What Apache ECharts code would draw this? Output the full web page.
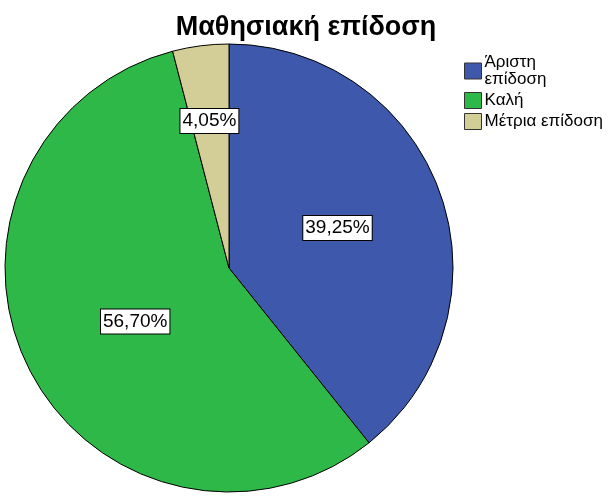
<!DOCTYPE html>
<html>
<head>
<meta charset="UTF-8">
<script src="https://cdn.jsdelivr.net/npm/echarts@6/dist/echarts.min.js"></script>
<style>
  html, body { margin: 0; padding: 0; background: #fff; }
  #main { width: 612px; height: 496px; }
</style>
</head>
<body>
<div id="main"></div>
<script>
// data
var categories = ['Άριστη επίδοση', 'Καλή', 'Μέτρια επίδοση'];
var percents = [39.25, 56.70, 4.05];
var colors = ['#3E58AC', '#2EB848', '#D3CE97'];

var chart = echarts.init(document.getElementById('main'), null, { renderer: 'canvas' });

// nudges so the labels sit where the reference puts them
var labelOffsets = [[0, -2], [9, 2], [-5, -33]];

var pieData = categories.map(function (name, i) {
  return {
    name: name,
    value: percents[i],
    itemStyle: { color: colors[i] },
    label: { offset: labelOffsets[i] }
  };
});

var option = {
  animation: false,
  title: {
    text: 'Μαθησιακή επίδοση',
    left: 'center',
    top: 9,
    textStyle: { fontFamily: 'Liberation Sans, Arial', fontWeight: 'bold', fontSize: 27, color: '#000' }
  },
  legend: {
    orient: 'vertical',
    left: 459,
    top: 49,
    itemWidth: 17,
    itemHeight: 16,
    itemGap: 4,
    icon: 'rect',
    data: categories,
    itemStyle: { borderColor: '#333', borderWidth: 1 },
    formatter: function (name) {
      return name === 'Άριστη επίδοση' ? 'Άριστη\nεπίδοση' : name;
    },
    textStyle: { fontFamily: 'Liberation Sans, Arial', fontSize: 17, color: '#000', lineHeight: 17, padding: [0, 0, 0, -2] }
  },
  series: [{
    type: 'pie',
    center: [229, 268],
    radius: 224,
    startAngle: 90,
    clockwise: true,
    itemStyle: { borderColor: '#000', borderWidth: 1 },
    emphasis: { disabled: true },
    label: {
      show: true,
      position: 'inside',
      formatter: function (p) { return p.value.toFixed(2).replace('.', ',') + '%'; },
      fontFamily: 'Liberation Sans, Arial',
      fontSize: 19,
      color: '#000',
      backgroundColor: '#fff',
      borderColor: '#000',
      borderWidth: 1,
      padding: [3, 2, 2, 2]
    },
    labelLine: { show: false },
    data: pieData
  }]
};

chart.setOption(option);
</script>
</body>
</html>
